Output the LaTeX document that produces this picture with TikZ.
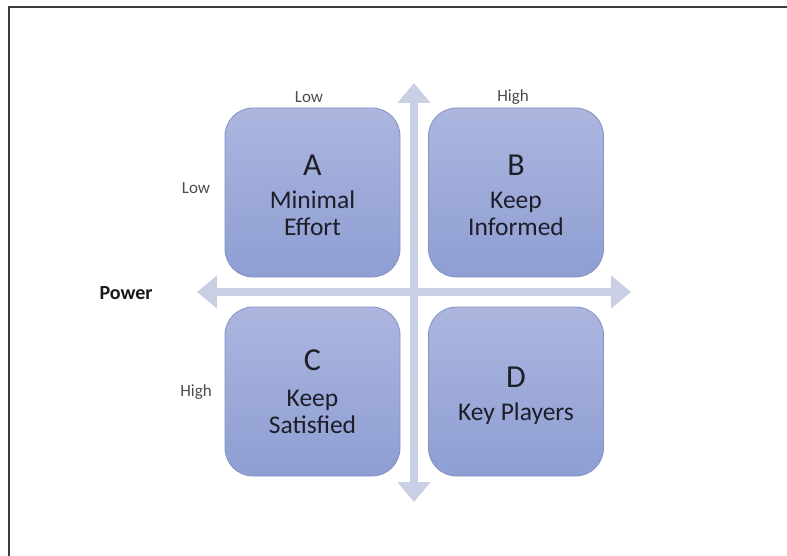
\documentclass[tikz,border=0pt]{standalone}
\usepackage{fontspec}
\setmainfont{Carlito}
\usetikzlibrary{arrows.meta}
\definecolor{boxtop}{HTML}{ACB6DF}
\definecolor{boxbot}{HTML}{8E9ED3}
\definecolor{boxline}{HTML}{8592C2}
\definecolor{axiscol}{HTML}{C9D0E3}
\definecolor{txt}{HTML}{1E1E28}
\definecolor{frame}{HTML}{3C3C3C}
\tikzset{
  quad/.style={rounded corners=28pt, minimum width=175pt, minimum height=169pt,
    top color=boxtop, bottom color=boxbot, draw=boxline, line width=0.8pt,
    align=center, text=txt, font=\fontsize{25.5}{27}\selectfont, inner sep=0pt},
  axis/.style={line width=8pt, draw=axiscol,
    {Triangle[width=32pt,length=20pt]}-{Triangle[width=32pt,length=20pt]}},
  lab/.style={font=\fontsize{17}{20}\selectfont, text=black!70},
  letter/.style={font=\fontsize{32}{32}\selectfont}
}
\begin{document}
\begin{tikzpicture}[x=1pt,y=-1pt]
\useasboundingbox (0,0) rectangle (787,556);
\fill[white] (0,0) rectangle (787,556);
% frame
\coordinate (ftl) at (9,7);
\coordinate (ftr) at (787,7);
\coordinate (fbl) at (9,556);
\draw[frame, line width=2pt] (fbl) -- (ftl) -- (ftr);
% axes
\coordinate (vt) at (414,83);
\coordinate (vb) at (414,502);
\coordinate (hl) at (197,292);
\coordinate (hr) at (631,292);
\draw[axis] (vb) -- (vt);
\draw[axis] (hl) -- (hr);
% quadrants
\node[quad] (A) at (312.5,192.5) {};
\node[quad] (B) at (516,192.5) {};
\node[quad] (C) at (312.5,391.5) {};
\node[quad] (D) at (516,391.5) {};
\node[align=center, text=txt, font=\fontsize{25.5}{27}\selectfont] (At) at (312.5,195)
  {{\fontsize{32}{32}\selectfont A}\\[6pt]Minimal\\Effort};
\node[align=center, text=txt, font=\fontsize{25.5}{27}\selectfont] (Bt) at (516,195)
  {{\fontsize{32}{32}\selectfont B}\\[6pt]Keep\\Informed};
\node[align=center, text=txt, font=\fontsize{25.5}{27}\selectfont] (Ct) at (312.5,391.5)
  {{\fontsize{32}{32}\selectfont C}\\[9pt]Keep\\Satisfied};
\node[align=center, text=txt, font=\fontsize{25.5}{27}\selectfont] (Dt) at (516,395.5)
  {{\fontsize{32}{32}\selectfont D}\\[6pt]Key Players};
% labels
\node[lab] (lowtop) at (309,97) {Low};
\node[lab] (hightop) at (513,97) {High};
\node[lab] (lowleft) at (196,188) {Low};
\node[lab] (highleft) at (196,392) {High};
\node[font=\bfseries\fontsize{20}{22}\selectfont, text=black!90] (power) at (126,293) {Power};
\end{tikzpicture}
\end{document}
